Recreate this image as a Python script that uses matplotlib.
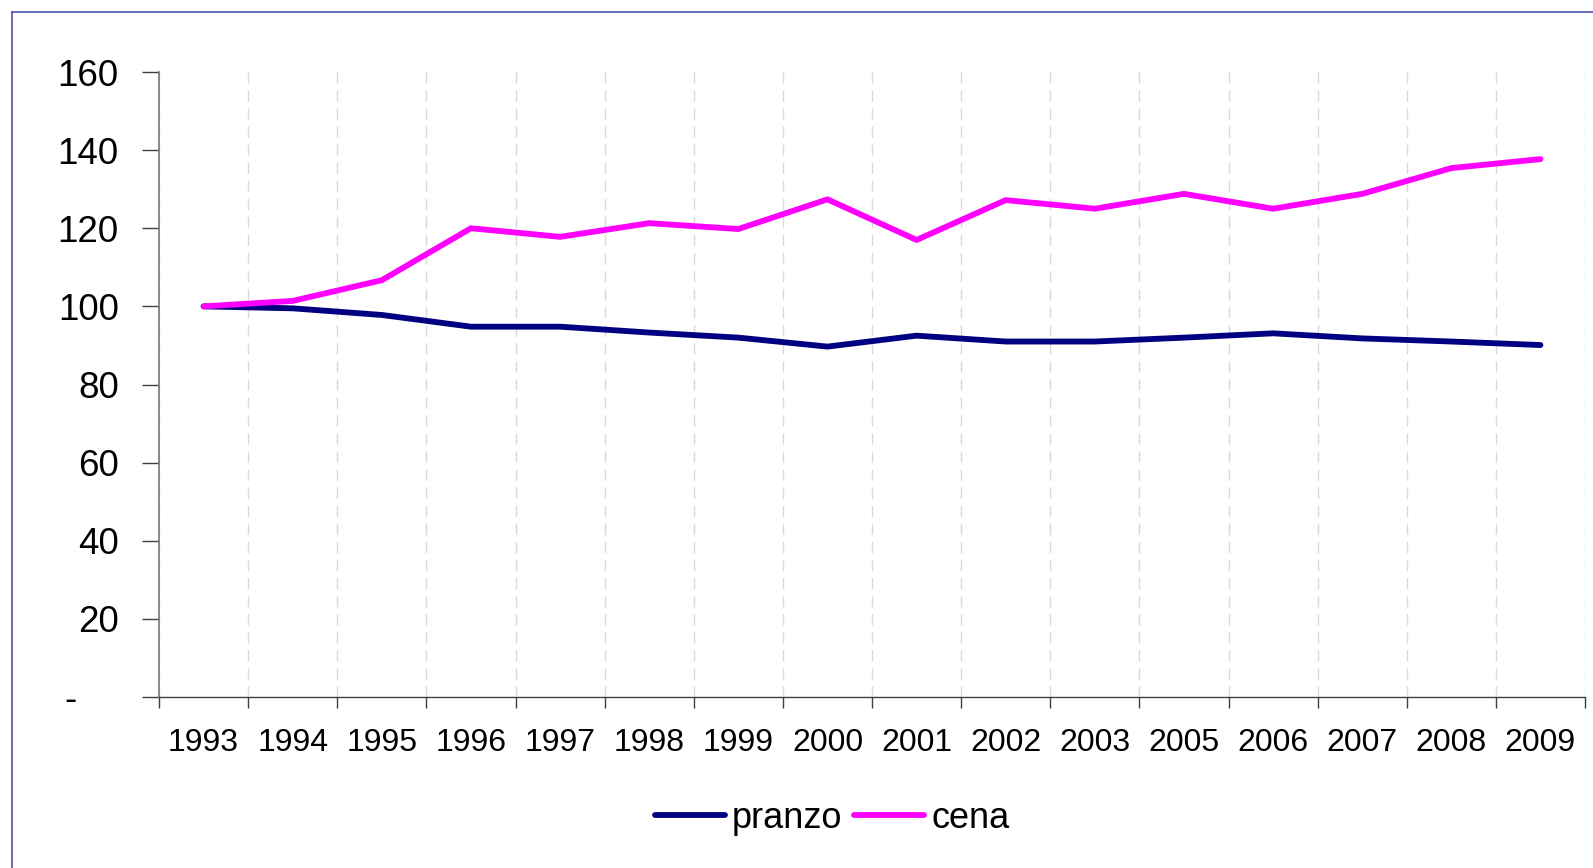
import matplotlib
matplotlib.use('Agg')
import matplotlib.pyplot as plt
import numpy as np
from matplotlib.lines import Line2D

# data
years = ['1993', '1994', '1995', '1996', '1997', '1998', '1999', '2000',
         '2001', '2002', '2003', '2005', '2006', '2007', '2008', '2009']
pranzo = [100, 99.5, 97.8, 94.8, 94.8, 93.3, 92.0, 89.7,
          92.5, 91.0, 91.0, 92.0, 93.1, 91.8, 91.0, 90.1]
cena = [100, 101.4, 106.7, 120.0, 117.8, 121.3, 119.8, 127.4,
        117.0, 127.2, 125.0, 128.8, 125.0, 128.8, 135.4, 137.7]
yticks = [0, 20, 40, 60, 80, 100, 120, 140, 160]
ytick_labels = ['-    ', '20', '40', '60', '80', '100', '120', '140', '160']

plt.rcParams['font.family'] = ['Liberation Sans', 'DejaVu Sans']

fig = plt.figure(figsize=(15.93, 8.68), dpi=100)
ax = fig.add_axes([159 / 1593, 1 - 697 / 868, (1585 - 159) / 1593, (697 - 72) / 868])

x = np.arange(len(years)) + 0.5
ax.plot(x, pranzo, color='#000080', lw=4.2, solid_capstyle='round', label='pranzo', zorder=3)
ax.plot(x, cena, color='#ff00ff', lw=4.2, solid_capstyle='round', label='cena', zorder=3)

ax.set_xlim(0, len(years))
ax.set_ylim(0, 160)

# category boundaries carry the ticks and the dashed grid
ax.set_xticks(np.arange(len(years) + 1))
ax.set_xticklabels([])
ax.set_xticks(x, minor=True)
ax.set_xticklabels(years, minor=True, fontsize=23)
ax.tick_params(axis='x', which='minor', length=0, pad=22)
ax.tick_params(axis='x', which='major', length=8, width=1, color='#404040', direction='out')
ax.xaxis.grid(True, which='major', color='#d9d9d9', lw=1, linestyle=(0, (8, 5)))

ax.set_yticks(yticks)
ax.set_yticklabels(ytick_labels, fontsize=26.5)
ax.tick_params(axis='y', length=12, width=1, color='#404040', direction='out', pad=17)

ax.spines['top'].set_visible(False)
ax.spines['right'].set_visible(False)
ax.spines['left'].set_color('#808080')
ax.spines['left'].set_linewidth(1.3)
ax.spines['bottom'].set_color('#404040')
ax.spines['bottom'].set_linewidth(1.0)

leg = fig.legend(loc='center', bbox_to_anchor=(832 / 1593, 1 - 818 / 868), ncol=2,
                 frameon=False, fontsize=26, handlelength=1.95, handletextpad=0.2,
                 columnspacing=0.3)
for h in leg.get_lines():
    h.set_linewidth(4.2)

# thin border on top and left of the chart area
fig.add_artist(Line2D([12 / 1593, 12 / 1593], [0, 1 - 12 / 868], color='#5050b0', lw=1.2))
fig.add_artist(Line2D([12 / 1593, 1], [1 - 12 / 868, 1 - 12 / 868], color='#5050b0', lw=1.2))

fig.savefig('out.png', dpi=100)
